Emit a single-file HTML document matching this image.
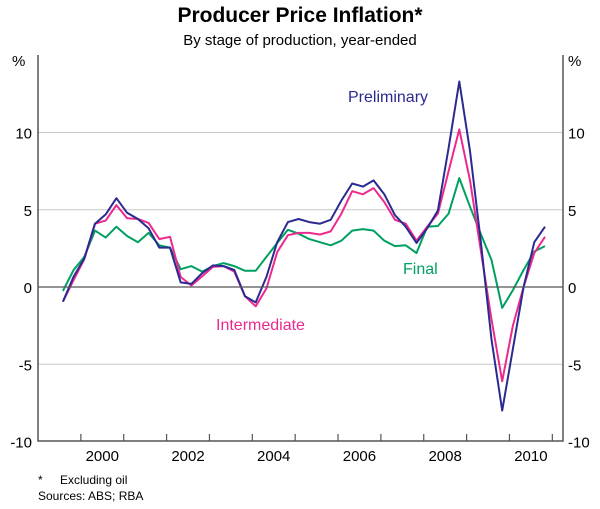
<!DOCTYPE html>
<html><head><meta charset="utf-8"><style>
body{margin:0;background:#fff;}
svg{display:block;font-family:"Liberation Sans",Arial,sans-serif;}
</style></head><body>
<svg id="chart" width="600" height="509" viewBox="0 0 600 509">
<text x="300" y="22" text-anchor="middle" font-size="21" font-weight="bold">Producer Price Inflation*</text>
<text x="300" y="45" text-anchor="middle" font-size="15">By stage of production, year-ended</text>
<text x="12" y="66" font-size="15">%</text>
<text x="568" y="66" font-size="15">%</text>
<g id="grid"></g>
<g id="series"></g>
<g id="axes"></g>
<text x="348" y="102" font-size="16" fill="#2a2a90">Preliminary</text>
<text x="216" y="330" font-size="16" fill="#ec2a8e">Intermediate</text>
<text x="403" y="274" font-size="16" fill="#00a060">Final</text>
<text x="38" y="484" font-size="12">*</text>
<text x="60" y="484" font-size="12">Excluding oil</text>
<text x="38" y="500" font-size="12">Sources: ABS; RBA</text>
</svg>
<script>
const startYear = 1999.58;
const preliminary = [-0.95,0.67,1.85,4.1,4.7,5.75,4.8,4.4,3.8,2.55,2.55,0.3,0.2,0.9,1.4,1.35,1.1,-0.6,-1.0,0.65,2.9,4.2,4.4,4.2,4.1,4.35,5.6,6.7,6.5,6.9,6.0,4.65,3.9,2.85,3.8,4.95,9.0,13.3,8.8,3.0,-3.4,-8.0,-4.0,0.0,2.9,3.9];
const intermediate = [-0.95,0.45,1.8,4.1,4.3,5.3,4.45,4.4,4.15,3.1,3.25,0.65,0.1,0.7,1.3,1.35,1.0,-0.6,-1.25,-0.1,2.25,3.35,3.5,3.5,3.4,3.6,4.75,6.2,6.0,6.4,5.5,4.35,4.1,3.0,3.9,4.75,7.5,10.2,6.9,2.4,-2.1,-6.1,-2.5,0.0,2.2,3.25];
const finalStage = [-0.25,1.1,1.95,3.65,3.2,3.9,3.3,2.9,3.5,2.7,2.55,1.15,1.35,1.0,1.35,1.55,1.35,1.05,1.05,1.95,2.85,3.7,3.45,3.1,2.9,2.7,3.0,3.65,3.75,3.65,3.0,2.65,2.7,2.2,3.9,3.95,4.75,7.05,5.2,3.45,1.75,-1.35,-0.2,1.1,2.3,2.65];
const yTicks = [-10,-5,0,5,10];
const yearLabels = [2000,2002,2004,2006,2008,2010];
const yearTicks = [2000,2001,2002,2003,2004,2005,2006,2007,2008,2009,2010,2011];

const L=38,R=563,T=55,B=441;
const xS = y => L + (y-1999)*42.86;
const yS = v => 287 - v*15.45;
const NS="http://www.w3.org/2000/svg";
function mk(tag,parent,attrs){const e=document.createElementNS(NS,tag);for(const k in attrs)e.setAttribute(k,attrs[k]);parent.appendChild(e);return e;}
const grid=document.getElementById('grid'), axes=document.getElementById('axes'), ser=document.getElementById('series');
yTicks.forEach(v=>{
  if(v!==0 && v!==-10){const g=mk('line',grid,{x1:L,x2:R,y1:yS(v),y2:yS(v),stroke:'#c8c8c8','stroke-width':1});
  
  }
  const t1=mk('text',axes,{x:32,y:yS(v)+6,'text-anchor':'end','font-size':15});t1.textContent=v;
  
  
  const t2=mk('text',axes,{x:568,y:yS(v)+6,'font-size':15});t2.textContent=v;
  
  
});
const z=mk('line',axes,{x1:L,x2:R,y1:yS(0),y2:yS(0),stroke:'#555','stroke-width':1.2});


const frame=mk('path',axes,{d:`M${L},${T} V${B} H${R} V${T}`,fill:'none',stroke:'#555','stroke-width':1.5});


yearTicks.forEach(y=>{const t=mk('line',axes,{x1:xS(y),x2:xS(y),y1:B,y2:B-7,stroke:'#555','stroke-width':1.2});
  
  });
yearLabels.forEach(y=>{const t=mk('text',axes,{x:xS(y+0.5),y:B+20,'text-anchor':'middle','font-size':15});t.textContent=y;
  
  });
function line(data,color,name){
  const pts=data.map((v,i)=>xS(startYear+i*0.25).toFixed(1)+','+yS(v).toFixed(1)).join(' ');
  const p=mk('polyline',ser,{points:pts,fill:'none',stroke:color,'stroke-width':2,'stroke-linejoin':'round'});
  
  
}
line(finalStage,'#00a060','final-line');
line(intermediate,'#ec2a8e','intermediate-line');
line(preliminary,'#2a2a90','preliminary-line');
</script>
</body></html>
